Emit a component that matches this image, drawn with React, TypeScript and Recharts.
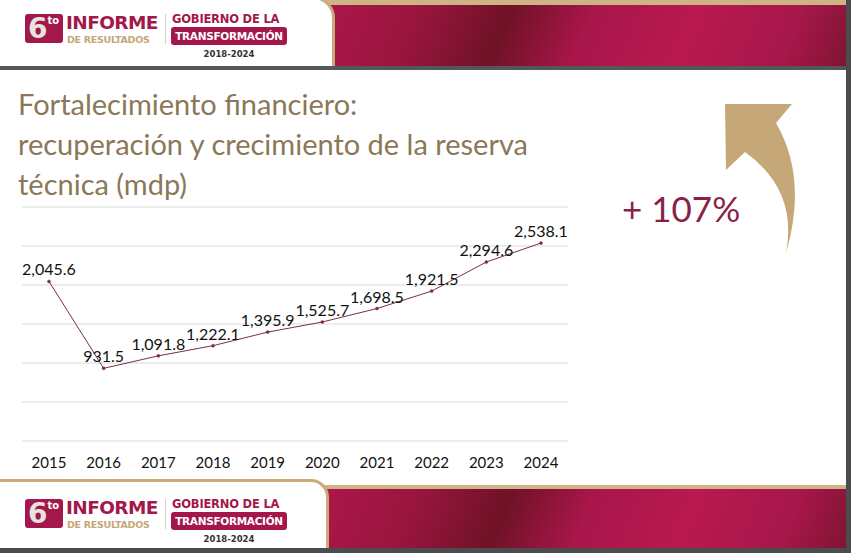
import React from "react";
import { CartesianGrid, LabelList, Line, LineChart, XAxis, YAxis } from "recharts";

const years = ["2015", "2016", "2017", "2018", "2019", "2020", "2021", "2022", "2023", "2024"];
const reserva = [2045.6, 931.5, 1091.8, 1222.1, 1395.9, 1525.7, 1698.5, 1921.5, 2294.6, 2538.1];
const yTicks = [0, 500, 1000, 1500, 2000, 2500, 3000];

const data = years.map((y, i) => ({ year: y, value: reserva[i] }));

const FONT = "Lato, 'Open Sans', sans-serif";
const MAGENTA = "#a3174a";

const fmt = (v: any) =>
  Number(v).toLocaleString("en-US", { minimumFractionDigits: 1, maximumFractionDigits: 1 });

const bannerBg =
  "linear-gradient(112deg, #b3174b 0%, #9a1540 22%, #6f1226 38%, #a8164a 52%, #b9194f 70%, #a6174a 88%, #7c1430 100%)";

function Logo({ top }: { top: number }) {
  return (
    <div style={{ position: "absolute", left: 0, top, width: 300, height: 50, fontFamily: "'DejaVu Sans', sans-serif" }}>
      <div
        style={{
          position: "absolute", left: 25, top: 0, width: 38, height: 29, background: MAGENTA,
          borderRadius: 3, color: "#e7e3e0", fontWeight: 900, fontSize: 28, lineHeight: "29px",
          paddingLeft: 3, boxSizing: "border-box",
        }}
      >
        6<span style={{ fontSize: 10, verticalAlign: "top", lineHeight: "14px", color: "#fff" }}>to</span>
      </div>
      <div style={{ position: "absolute", left: 66, top: 0, color: MAGENTA, fontWeight: 900, fontSize: 18.5, lineHeight: "17px", letterSpacing: -0.6 }}>
        INFORME
      </div>
      <div style={{ position: "absolute", left: 67, top: 21, color: "#c5a678", fontWeight: 700, fontSize: 9.5, lineHeight: "10px", letterSpacing: -0.3 }}>
        DE RESULTADOS
      </div>
      <div style={{ position: "absolute", left: 165, top: 0, width: 1, height: 30, background: "#d8cfc4" }} />
      <div style={{ position: "absolute", left: 172, top: -1, color: MAGENTA, fontWeight: 700, fontSize: 11.5, lineHeight: "12px", letterSpacing: -0.2 }}>
        GOBIERNO DE LA
      </div>
      <div
        style={{
          position: "absolute", left: 171, top: 13, width: 116, height: 18, background: MAGENTA, borderRadius: 3,
          color: "#fff", fontWeight: 700, fontSize: 10.5, lineHeight: "18px", textAlign: "center", letterSpacing: -0.3,
        }}
      >
        TRANSFORMACIÓN
      </div>
      <div style={{ position: "absolute", left: 172, top: 35, width: 114, textAlign: "center", color: "#333", fontSize: 8.5, fontWeight: 700, lineHeight: "10px" }}>
        2018-2024
      </div>
    </div>
  );
}

export default function App() {
  return (
    <div style={{ position: "absolute", left: 0, top: 0, width: 851, height: 553, overflow: "hidden", background: "#fff" }}>
      {/* header */}
      <div style={{ position: "absolute", left: 0, top: 0, width: 851, height: 5, background: "#cdb386" }} />
      <div style={{ position: "absolute", left: 290, top: 5, width: 561, height: 62, background: bannerBg }} />
      <div
        style={{
          position: "absolute", left: -4, top: -4, width: 336, height: 71, background: "#fff",
          borderTopRightRadius: 22, border: "3px solid #c9ab7c", borderLeft: "none", borderBottom: "none",
        }}
      />
      <div style={{ position: "absolute", left: 0, top: 66, width: 851, height: 4, background: "#54575a" }} />
      <Logo top={14} />

      {/* footer */}
      <div style={{ position: "absolute", left: 290, top: 485, width: 561, height: 4, background: "#cdb386" }} />
      <div style={{ position: "absolute", left: 290, top: 489, width: 561, height: 60, background: bannerBg }} />
      <div
        style={{
          position: "absolute", left: -4, top: 479, width: 330, height: 75, background: "#fff",
          borderTopRightRadius: 18, border: "3px solid #c9ab7c", borderLeft: "none", borderBottom: "none",
        }}
      />
      <div style={{ position: "absolute", left: 0, top: 548, width: 851, height: 5, background: "#4a4c4f" }} />
      <Logo top={499} />

      {/* right edge */}
      <div style={{ position: "absolute", left: 846, top: 0, width: 5, height: 553, background: "#4a4c4f" }} />

      {/* title */}
      <div
        style={{
          position: "absolute", left: 18, top: 84, fontFamily: FONT, fontSize: 29, lineHeight: "40px",
          color: "#8a7857",
        }}
      >
        Fortalecimiento financiero:
        <br />
        recuperación y crecimiento de la reserva
        <br />
        técnica (mdp)
      </div>

      {/* arrow */}
      <svg style={{ position: "absolute", left: 0, top: 0 }} width={851} height={553}>
        <path
          d="M725,104 L792,104 L776,123 Q808,178 786,253 Q798,190 745,152 L726,170 Z"
          fill="#c6a878"
        />
      </svg>
      <div
        style={{
          position: "absolute", left: 622, top: 188, fontFamily: FONT, fontSize: 35, lineHeight: "40px",
          color: "#8c1f48",
        }}
      >
        + 107%
      </div>

      {/* chart */}
      <div style={{ position: "absolute", left: 0, top: 190 }}>
        <LineChart width={600} height={290} data={data} margin={{ top: 17, right: 32, left: 22, bottom: 9 }}>
          <CartesianGrid vertical={false} stroke="#d9d9d9" strokeWidth={1} />
          <XAxis
            dataKey="year"
            axisLine={false}
            tickLine={false}
            height={30}
            tickMargin={10}
            padding={{ left: 27, right: 27 }}
            tick={{ fontFamily: FONT, fontSize: 15, fill: "#111" }}
            interval={0}
          />
          <YAxis hide domain={[0, 3000]} ticks={yTicks} />
          <Line
            dataKey="value"
            stroke="#7d2c4b"
            strokeWidth={1}
            dot={{ r: 1.5, fill: "#7d2c4b", stroke: "#7d2c4b", strokeWidth: 0.5 }}
            isAnimationActive={false}
          >
            <LabelList
              dataKey="value"
              position="top"
              offset={6}
              formatter={fmt}
              style={{ fontFamily: FONT, fontSize: 16, fill: "#111" }}
            />
          </Line>
        </LineChart>
      </div>
    </div>
  );
}
